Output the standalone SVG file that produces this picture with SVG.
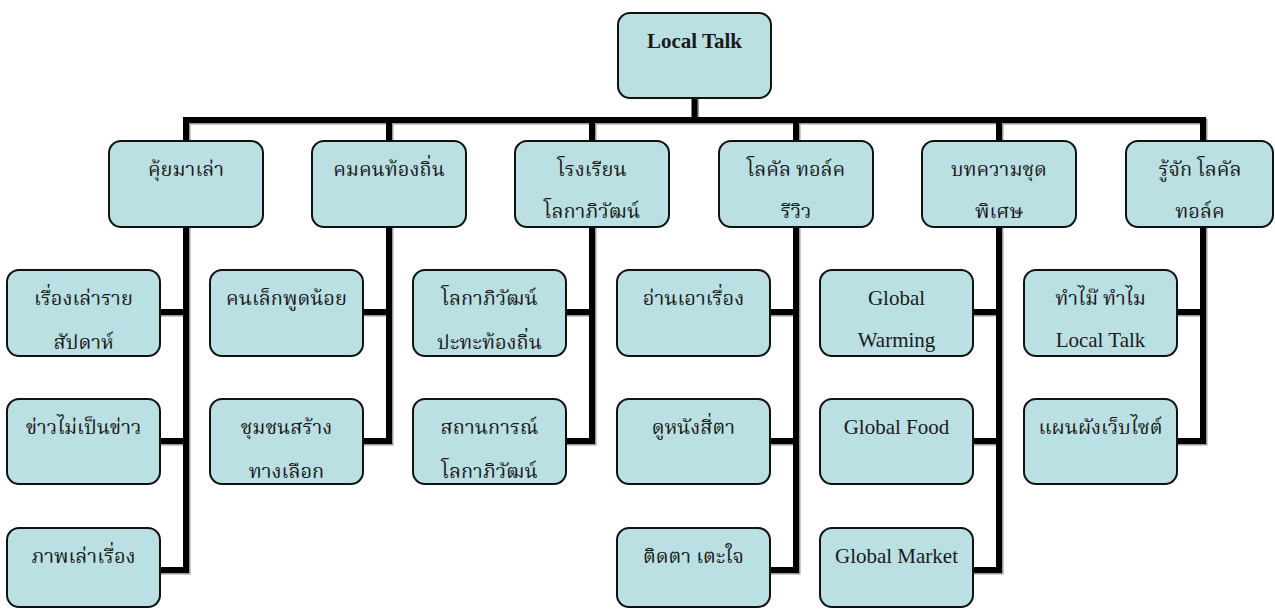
<svg xmlns="http://www.w3.org/2000/svg" width="1275" height="610" viewBox="0 0 1275 610">
<style>
.box{fill:#bae0e3;stroke:#111;stroke-width:2}
.ln{fill:none;stroke:#000;stroke-width:6;stroke-linejoin:miter;stroke-linecap:square}
.sh{fill:none;stroke:#9a9a9a;stroke-width:6;stroke-linejoin:miter;stroke-linecap:square}
.th{font-family:"Liberation Serif","Noto Serif Thai","Noto Sans Thai",serif;font-size:20px;fill:#1a1a1a;text-anchor:middle}
.en{font-family:"Liberation Serif","Times New Roman",serif;font-size:21px;fill:#1a1a1a;text-anchor:middle}
</style>
<rect width="1275" height="610" fill="#fff"/>
<g id="connectors">
<g transform="translate(1.5,1.5)">
<path class="sh" d="M694.5,98V120M186,120H1203M186,120V141M389,120V141M592,120V141M796,120V141M999,120V141M1203,120V141"/>
<path class="sh" d="M186,227V570H160M186,312H160M186,441H160"/>
<path class="sh" d="M389,227V441H363M389,312H363"/>
<path class="sh" d="M592,227V441H566M592,312H566"/>
<path class="sh" d="M796,227V570H770M796,312H770M796,441H770"/>
<path class="sh" d="M999,227V570H973M999,312H973M999,441H973"/>
<path class="sh" d="M1203,227V441H1177M1203,312H1177"/>
</g>
<path class="ln" d="M694.5,98V120M186,120H1203M186,120V141M389,120V141M592,120V141M796,120V141M999,120V141M1203,120V141"/>
<path class="ln" d="M186,227V570H160M186,312H160M186,441H160"/>
<path class="ln" d="M389,227V441H363M389,312H363"/>
<path class="ln" d="M592,227V441H566M592,312H566"/>
<path class="ln" d="M796,227V570H770M796,312H770M796,441H770"/>
<path class="ln" d="M999,227V570H973M999,312H973M999,441H973"/>
<path class="ln" d="M1203,227V441H1177M1203,312H1177"/>
</g>
<g id="root"><rect class="box" x="618" y="13" width="153" height="85" rx="12"/><text class="en" x="694.5" y="48" font-weight="bold">Local Talk</text></g>
<g id="c1"><rect class="box" x="109" y="141" width="154" height="86" rx="12"/><text class="th" x="186" y="176">คุ้ยมาเล่า</text></g>
<g id="c2"><rect class="box" x="312" y="141" width="154" height="86" rx="12"/><text class="th" x="389" y="176">คมคนท้องถิ่น</text></g>
<g id="c3"><rect class="box" x="515" y="141" width="154" height="86" rx="12"/><text class="th" x="592" y="176">โรงเรียน</text><text class="th" x="592" y="218">โลกาภิวัฒน์</text></g>
<g id="c4"><rect class="box" x="719" y="141" width="154" height="86" rx="12"/><text class="th" x="796" y="176">โลคัล ทอล์ค</text><text class="th" x="796" y="218">รีวิว</text></g>
<g id="c5"><rect class="box" x="922" y="141" width="154" height="86" rx="12"/><text class="th" x="999" y="176">บทความชุด</text><text class="th" x="999" y="218">พิเศษ</text></g>
<g id="c6"><rect class="box" x="1126" y="141" width="147" height="86" rx="12"/><text class="th" x="1200" y="176">รู้จัก โลคัล</text><text class="th" x="1200" y="218">ทอล์ค</text></g>
<g id="c1a"><rect class="box" x="7" y="270" width="153" height="86" rx="12"/><text class="th" x="83.5" y="305">เรื่องเล่าราย</text><text class="th" x="83.5" y="349">สัปดาห์</text></g>
<g id="c1b"><rect class="box" x="7" y="399" width="153" height="85" rx="12"/><text class="th" x="83.5" y="434">ข่าวไม่เป็นข่าว</text></g>
<g id="c1c"><rect class="box" x="7" y="528" width="153" height="79" rx="12"/><text class="th" x="83.5" y="563">ภาพเล่าเรื่อง</text></g>
<g id="c2a"><rect class="box" x="210" y="270" width="153" height="86" rx="12"/><text class="th" x="286.5" y="305">คนเล็กพูดน้อย</text></g>
<g id="c2b"><rect class="box" x="210" y="399" width="153" height="85" rx="12"/><text class="th" x="286.5" y="434">ชุมชนสร้าง</text><text class="th" x="286.5" y="478">ทางเลือก</text></g>
<g id="c3a"><rect class="box" x="413" y="270" width="153" height="86" rx="12"/><text class="th" x="489.5" y="305">โลกาภิวัฒน์</text><text class="th" x="489.5" y="349">ปะทะท้องถิ่น</text></g>
<g id="c3b"><rect class="box" x="413" y="399" width="153" height="85" rx="12"/><text class="th" x="489.5" y="434">สถานการณ์</text><text class="th" x="489.5" y="478">โลกาภิวัฒน์</text></g>
<g id="c4a"><rect class="box" x="617" y="270" width="153" height="86" rx="12"/><text class="th" x="693.5" y="305">อ่านเอาเรื่อง</text></g>
<g id="c4b"><rect class="box" x="617" y="399" width="153" height="85" rx="12"/><text class="th" x="693.5" y="434">ดูหนังสี่ตา</text></g>
<g id="c4c"><rect class="box" x="617" y="528" width="153" height="79" rx="12"/><text class="th" x="693.5" y="563">ติดตา เตะใจ</text></g>
<g id="c5a"><rect class="box" x="820" y="270" width="153" height="86" rx="12"/><text class="en" x="896.5" y="305">Global</text><text class="en" x="896.5" y="347">Warming</text></g>
<g id="c5b"><rect class="box" x="820" y="399" width="153" height="85" rx="12"/><text class="en" x="896.5" y="434">Global Food</text></g>
<g id="c5c"><rect class="box" x="820" y="528" width="153" height="79" rx="12"/><text class="en" x="896.5" y="563">Global Market</text></g>
<g id="c6a"><rect class="box" x="1024" y="270" width="153" height="86" rx="12"/><text class="th" x="1100.5" y="305">ทำไม๊ ทำไม</text><text class="en" x="1100.5" y="347">Local Talk</text></g>
<g id="c6b"><rect class="box" x="1024" y="399" width="153" height="85" rx="12"/><text class="th" x="1100.5" y="434">แผนผังเว็บไซต์</text></g>
</svg>
